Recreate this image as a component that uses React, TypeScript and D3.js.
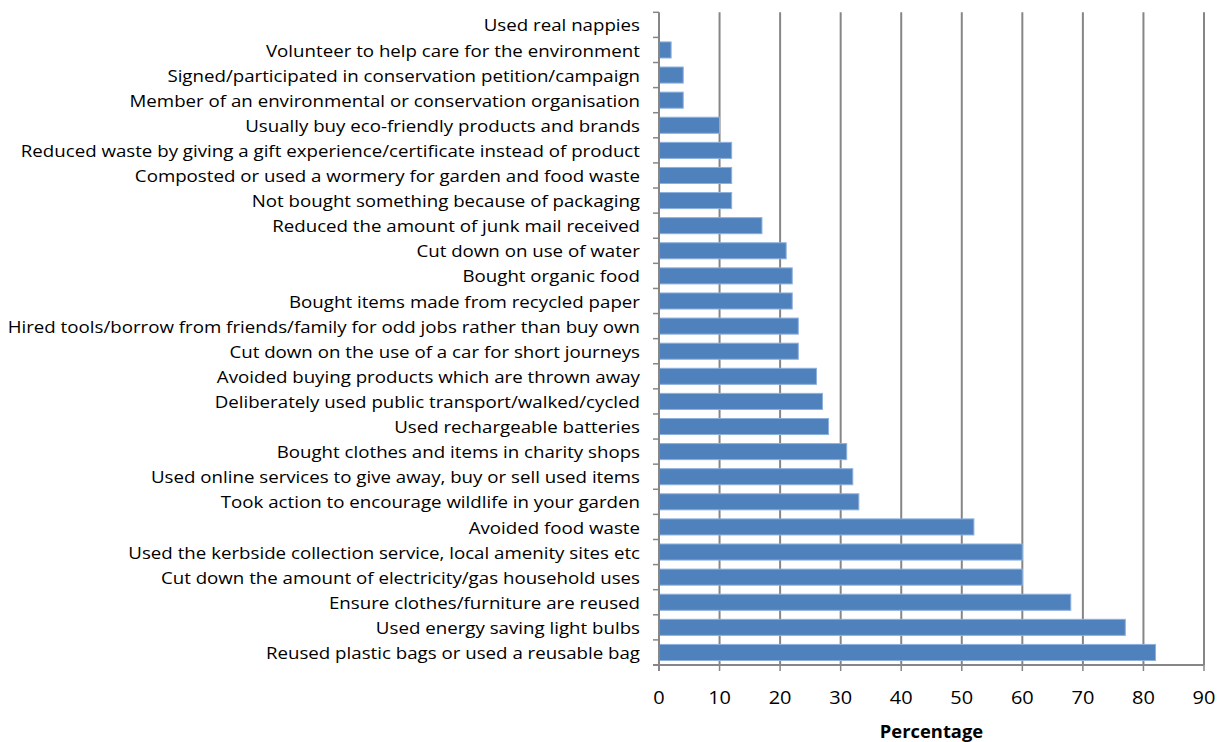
import React from "react";
import * as d3 from "d3";

const categories: string[] = [
  "Used real nappies",
  "Volunteer to help care for the environment",
  "Signed/participated in conservation petition/campaign",
  "Member of an environmental or conservation organisation",
  "Usually buy eco-friendly products and brands",
  "Reduced waste by giving a gift experience/certificate instead of product",
  "Composted or used a wormery for garden and food waste",
  "Not bought something because of packaging",
  "Reduced the amount of junk mail received",
  "Cut down on use of water",
  "Bought organic food",
  "Bought items made from recycled paper",
  "Hired tools/borrow from friends/family for odd jobs rather than buy own",
  "Cut down on the use of a car for short journeys",
  "Avoided buying products which are thrown away",
  "Deliberately used public transport/walked/cycled",
  "Used rechargeable batteries",
  "Bought clothes and items in charity shops",
  "Used online services to give away, buy or sell used items",
  "Took action to encourage wildlife in your garden",
  "Avoided food waste",
  "Used the kerbside collection service, local amenity sites etc",
  "Cut down the amount of electricity/gas household uses",
  "Ensure clothes/furniture are reused",
  "Used energy saving light bulbs",
  "Reused plastic bags or used a reusable bag",
];

const values: number[] = [
  0, 2, 4, 4, 10, 12, 12, 12, 17, 21, 22, 22, 23, 23, 26, 27, 28, 31, 32, 33, 52, 60, 60, 68, 77, 82,
];

const xTicks: number[] = [0, 10, 20, 30, 40, 50, 60, 70, 80, 90];
const xTitle = "Percentage";

export default function App() {
  const W = 1227;
  const H = 742;
  const left = 659;
  const right = 1204;
  const top = 12.3;
  const bottom = 665;

  const x = d3.scaleLinear().domain([0, 90]).range([left, right]);
  const y = d3
    .scaleBand<string>()
    .domain(categories)
    .range([top, bottom])
    .paddingInner(0.36)
    .paddingOuter(0.18);
  const band = (bottom - top) / categories.length;
  const font = "'Open Sans', 'Liberation Sans', Arial, sans-serif";
  const grid = "#868686";

  return (
    <svg
      width={W}
      height={H}
      style={{ position: "absolute", left: 0, top: 0, background: "#fff" }}
    >
      {xTicks.slice(1).map((t) => (
        <line
          key={"g" + t}
          x1={x(t)}
          x2={x(t)}
          y1={top}
          y2={bottom}
          stroke={grid}
          strokeWidth={2}
        />
      ))}
      {categories.map((c, i) => (
        <rect
          key={c}
          x={x(0)}
          y={y(c)}
          width={x(values[i]) - x(0)}
          height={y.bandwidth()}
          fill="#4F81BD"
          stroke="#8DB0DD"
          strokeWidth={values[i] > 0 ? 1 : 0}
        />
      ))}
      <line x1={left} x2={left} y1={top} y2={bottom + 6} stroke={grid} strokeWidth={2} />
      {d3.range(categories.length + 1).map((i) => (
        <line
          key={"yt" + i}
          x1={left - 6}
          x2={left}
          y1={top + i * band}
          y2={top + i * band}
          stroke={grid}
          strokeWidth={1.5}
        />
      ))}
      {categories.map((c) => (
        <text
          key={"l" + c}
          transform={`translate(640,${(y(c) as number) + y.bandwidth() / 2}) scale(1.12,1)`}
          textAnchor="end"
          dominantBaseline="central"
          fontFamily={font}
          fontSize={16.7}
          fill="#000"
        >
          {c}
        </text>
      ))}
      <line x1={left - 6} x2={right} y1={bottom} y2={bottom} stroke={grid} strokeWidth={2} />
      {xTicks.map((t) => (
        <g key={"xt" + t}>
          <line x1={x(t)} x2={x(t)} y1={bottom} y2={bottom + 6} stroke={grid} strokeWidth={1.5} />
          <text
            transform={`translate(${x(t)},697) scale(1.08,1)`}
            textAnchor="middle"
            dominantBaseline="central"
            fontFamily={font}
            fontSize={18.5}
            fill="#000"
          >
            {t}
          </text>
        </g>
      ))}
      <text
        transform={`translate(${(left + right) / 2},731) scale(1.08,1)`}
        textAnchor="middle"
        dominantBaseline="central"
        fontFamily={font}
        fontSize={17}
        fontWeight="bold"
        fill="#000"
      >
        {xTitle}
      </text>
    </svg>
  );
}
